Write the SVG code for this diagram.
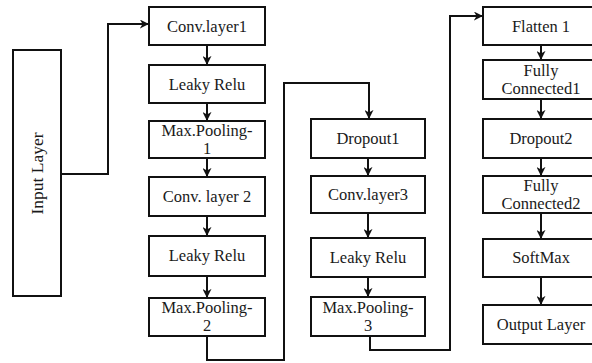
<svg xmlns="http://www.w3.org/2000/svg" width="592" height="363" viewBox="0 0 592 363">
  <style>
    .box { fill: #fff; stroke: #111; stroke-width: 2; }
    .lbl { fill: #1a1a1a; text-anchor: middle; }
    .wire { fill: none; stroke: #111; stroke-width: 2; }
  </style>
  <defs>
    <marker id="arrow" viewBox="0 0 10 10" refX="9" refY="5" markerWidth="4.5" markerHeight="4.5" orient="auto" markerUnits="strokeWidth">
      <path d="M0,0 L10,5 L0,10 L3,5 z" fill="#111"/>
    </marker>
  </defs>
  <rect width="592" height="363" fill="#fff"/>

  <!-- connectors -->
  <g id="connectors" class="wire" marker-end="url(#arrow)">
    <path d="M61,174 H108 V24 H148"/>
    <path d="M207,45 V64"/>
    <path d="M207,103 V120"/>
    <path d="M207,158 V176"/>
    <path d="M207,216 V235"/>
    <path d="M207,276 V297"/>
    <path d="M207,336 V360 H284 V83 H369 V118"/>
    <path d="M368,158 V175"/>
    <path d="M368,213 V237"/>
    <path d="M368,277 V296"/>
    <path d="M370,336 V350 H450 V16 H482"/>
    <path d="M541,45 V59"/>
    <path d="M541,99 V118"/>
    <path d="M541,158 V175"/>
    <path d="M541,213 V238"/>
    <path d="M541,277 V304"/>
  </g>

  <!-- input -->
  <g id="input-layer">
    <rect class="box" x="13" y="50" width="48" height="246"/>
    <text class="lbl" font-family="Liberation Serif, serif" font-size="17.5" transform="translate(43,173.5) rotate(-90)">Input Layer</text>
  </g>

  <!-- column 1 -->
  <g id="conv1"><rect class="box" x="149" y="7" width="116" height="38"/><text class="lbl" font-family="Liberation Serif, serif" font-size="16.5" x="207" y="31.5">Conv.layer1</text></g>
  <g id="lrelu1"><rect class="box" x="149" y="65" width="116" height="38"/><text class="lbl" font-family="Liberation Serif, serif" font-size="16.5" x="207" y="89.5">Leaky Relu</text></g>
  <g id="pool1"><rect class="box" x="149" y="121" width="116" height="37"/><text class="lbl" font-family="Liberation Serif, serif" font-size="16.5" x="207" y="136">Max.Pooling-</text><text class="lbl" font-family="Liberation Serif, serif" font-size="16.5" x="207" y="154">1</text></g>
  <g id="conv2"><rect class="box" x="149" y="177" width="116" height="39"/><text class="lbl" font-family="Liberation Serif, serif" font-size="16.5" x="207" y="202">Conv. layer 2</text></g>
  <g id="lrelu2"><rect class="box" x="149" y="236" width="116" height="40"/><text class="lbl" font-family="Liberation Serif, serif" font-size="16.5" x="207" y="261">Leaky Relu</text></g>
  <g id="pool2"><rect class="box" x="149" y="298" width="116" height="38"/><text class="lbl" font-family="Liberation Serif, serif" font-size="16.5" x="207" y="313">Max.Pooling-</text><text class="lbl" font-family="Liberation Serif, serif" font-size="16.5" x="207" y="331">2</text></g>

  <!-- column 2 -->
  <g id="dropout1"><rect class="box" x="311" y="119" width="114" height="39"/><text class="lbl" font-family="Liberation Serif, serif" font-size="16.5" x="368" y="144">Dropout1</text></g>
  <g id="conv3"><rect class="box" x="311" y="176" width="114" height="37"/><text class="lbl" font-family="Liberation Serif, serif" font-size="16.5" x="368" y="200">Conv.layer3</text></g>
  <g id="lrelu3"><rect class="box" x="311" y="238" width="114" height="39"/><text class="lbl" font-family="Liberation Serif, serif" font-size="16.5" x="368" y="263">Leaky Relu</text></g>
  <g id="pool3"><rect class="box" x="311" y="297" width="114" height="39"/><text class="lbl" font-family="Liberation Serif, serif" font-size="16.5" x="368" y="313">Max.Pooling-</text><text class="lbl" font-family="Liberation Serif, serif" font-size="16.5" x="368" y="331">3</text></g>

  <!-- column 3 -->
  <g id="flatten1"><rect class="box" x="483" y="7" width="116" height="38"/><text class="lbl" font-family="Liberation Serif, serif" font-size="16.5" x="541" y="31.5">Flatten 1</text></g>
  <g id="fc1"><rect class="box" x="483" y="60" width="116" height="39"/><text class="lbl" font-family="Liberation Serif, serif" font-size="16.5" x="541" y="76">Fully</text><text class="lbl" font-family="Liberation Serif, serif" font-size="16.5" x="541" y="94">Connected1</text></g>
  <g id="dropout2"><rect class="box" x="483" y="119" width="116" height="39"/><text class="lbl" font-family="Liberation Serif, serif" font-size="16.5" x="541" y="144">Dropout2</text></g>
  <g id="fc2"><rect class="box" x="483" y="176" width="116" height="37"/><text class="lbl" font-family="Liberation Serif, serif" font-size="16.5" x="541" y="190.5">Fully</text><text class="lbl" font-family="Liberation Serif, serif" font-size="16.5" x="541" y="208.5">Connected2</text></g>
  <g id="softmax"><rect class="box" x="483" y="239" width="116" height="38"/><text class="lbl" font-family="Liberation Serif, serif" font-size="16.5" x="541" y="263">SoftMax</text></g>
  <g id="output-layer"><rect class="box" x="483" y="305" width="116" height="39"/><text class="lbl" font-family="Liberation Serif, serif" font-size="16.5" x="541" y="330">Output Layer</text></g>
</svg>
